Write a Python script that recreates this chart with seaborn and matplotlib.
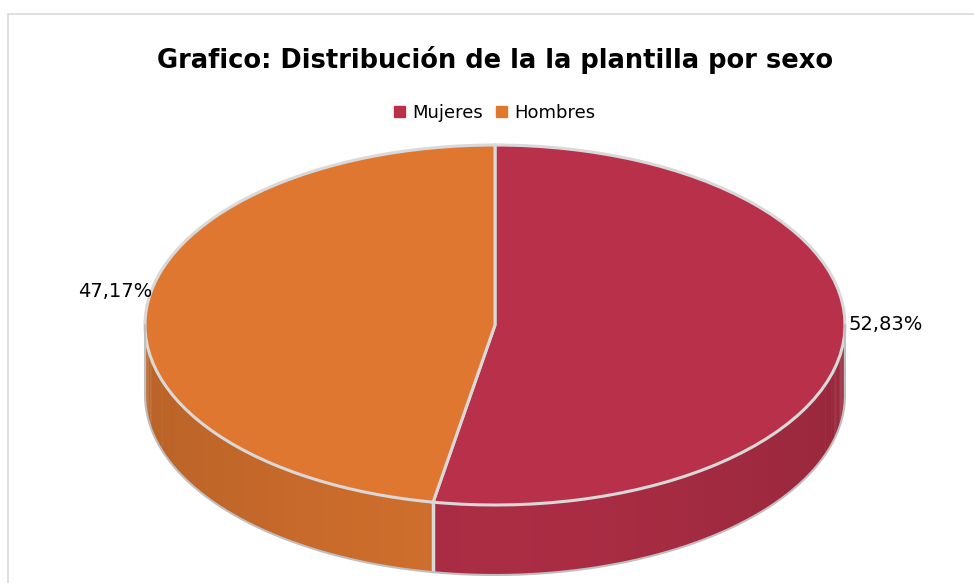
import numpy as np
import matplotlib
matplotlib.use("Agg")
import matplotlib.pyplot as plt
import matplotlib.colors as mcolors
import seaborn as sns

# Datos
sexos = ["Mujeres", "Hombres"]
porcentajes = [52.83, 47.17]
etiquetas = ["52,83%", "47,17%"]
colores_top = ["#B83049", "#E07730"]

sns.set_style("white")
plt.rcParams['font.family'] = ['DejaVu Sans']
plt.rcParams['text.color'] = 'black'

W, H = 974, 583
fig = plt.figure(figsize=(W / 100, H / 100), dpi=100)
ax = fig.add_axes([0, 0, 1, 1])

# geometria en pixeles -> y escalada para que el circulo se vea como elipse
cx, cy_pix = 495, 325
rx, ry = 350, 180
depth = 70
k = rx / ry
cy = (H - cy_pix) * k
d = depth * k

fracs = np.array(porcentajes) / sum(porcentajes)
bounds = 90 - 360 * np.concatenate([[0], np.cumsum(fracs)])  # sentido horario


def shade(c, f):
    r, g, b = mcolors.to_rgb(c)
    return (r * f, g * f, b * f)


# lateral (solo la mitad frontal, angulos entre -180 y 0)
for i, c in enumerate(colores_top):
    lo = max(bounds[i + 1], -180)
    hi = min(bounds[i], 0)
    if hi <= lo:
        continue
    angs = np.linspace(lo, hi, 120)
    for j in range(len(angs) - 1):
        t = np.radians([angs[j], min(angs[j + 1] + 0.3, hi)])
        xs = cx + rx * np.cos(t)
        ys = cy + rx * np.sin(t)
        mid = np.cos(np.radians((angs[j] + angs[j + 1]) / 2))
        f = 0.93 - 0.10 * abs(mid) ** 1.5
        ax.fill(np.r_[xs, xs[::-1]], np.r_[ys, ys[::-1] - d],
                color=shade(c, f), lw=0)

# borde vertical en la division frontal
for a in bounds:
    if -180 < a < 0:
        x0 = cx + rx * np.cos(np.radians(a))
        y0 = cy + rx * np.sin(np.radians(a))
        ax.plot([x0, x0], [y0, y0 - d], color="#D9D9D9", lw=2.5,
                solid_capstyle="butt")

# contorno inferior
t = np.radians(np.linspace(180, 360, 200))
ax.plot(cx + rx * np.cos(t), cy + rx * np.sin(t) - d, color="#BFBFBF", lw=1.5)
for xe in (cx - rx, cx + rx):
    ax.plot([xe, xe], [cy, cy - d], color="#BFBFBF", lw=1.5)

# cara superior
wedges, _ = ax.pie(porcentajes, colors=colores_top, startangle=90,
                   counterclock=False, radius=rx, center=(cx, cy),
                   frame=True,
                   wedgeprops=dict(edgecolor="#D9D9D9", linewidth=2.2))
ax.set_aspect("auto")
ax.set_xlim(0, W)
ax.set_ylim(0, H * k)
ax.set_xticks([])
ax.set_yticks([])
for s in ax.spines.values():
    s.set_visible(False)

# etiquetas
ax.text(848, (H - 325) * k, etiquetas[0], fontsize=14, ha="left", va="center")
ax.text(152, (H - 292) * k, etiquetas[1], fontsize=14, ha="right", va="center")

# titulo y leyenda
fig.text(0.508, 1 - 60 / H, "Grafico: Distribución de la la plantilla por sexo",
         fontsize=18.5, fontweight="bold", ha="center", va="center")
handles = [plt.Rectangle((0, 0), 1, 1, color=c) for c in colores_top]
fig.legend(handles, sexos, loc="center", bbox_to_anchor=(0.508, 1 - 113 / H),
           ncol=2, frameon=False, fontsize=13, handlelength=0.6,
           handleheight=0.6, handletextpad=0.4, columnspacing=0.7)

# marco del grafico
fig.add_artist(plt.Line2D([8 / W, 8 / W], [0, 1 - 14 / H], color="#D9D9D9", lw=1.2))
fig.add_artist(plt.Line2D([8 / W, 1], [1 - 14 / H, 1 - 14 / H], color="#D9D9D9", lw=1.2))

fig.savefig("out.png", dpi=100)
